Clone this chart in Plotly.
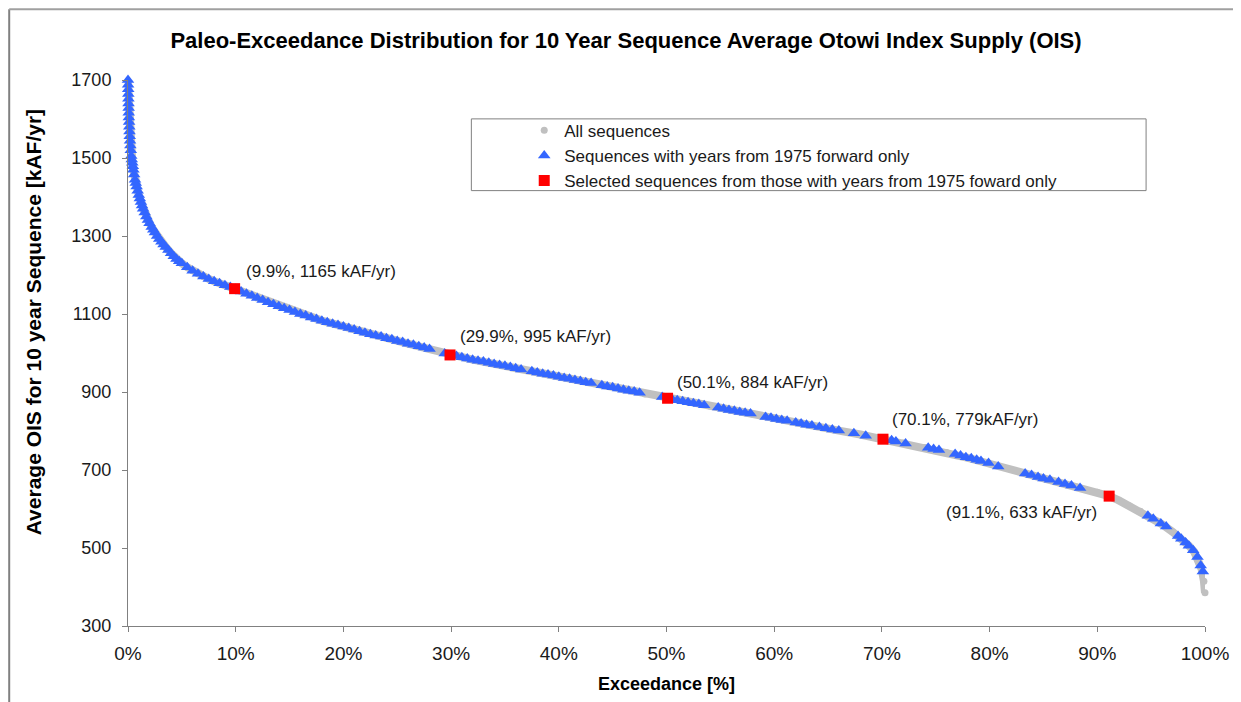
import plotly.graph_objects as go

# ---- data ----
# All sequences (grey curve), exceedance % and 10-yr average OIS [kAF/yr]
all_pct = [0.0, 0.05, 0.1, 0.2, 0.3, 0.4, 0.5, 0.65, 0.8, 1.0, 1.2, 1.4, 1.7, 2.0, 2.35, 2.7, 3.1, 3.5,
           4.0, 4.5, 5.0, 5.5, 6.0, 6.5, 7.0, 7.5, 8.0, 8.5, 9.0, 9.5, 9.9, 12, 14, 16, 18, 20, 22, 24,
           26, 28, 29.9, 32, 34, 36, 38, 40, 42, 44, 46, 48, 50.1, 52, 54, 56, 58, 60, 62, 64, 66, 68,
           70.1, 72, 74, 76, 78, 80, 82, 84, 86, 88, 90, 91.1, 92, 93, 94, 95, 96, 97, 98, 98.5, 99,
           99.4, 99.7, 99.9, 100]
all_val = [1695, 1650, 1600, 1540, 1505, 1488, 1470, 1444, 1427, 1405, 1387, 1370, 1350, 1333, 1316, 1300,
           1285, 1272, 1256, 1241, 1230, 1220, 1211, 1203, 1196, 1190, 1184, 1179, 1174, 1169, 1165, 1141,
           1120, 1100, 1083, 1068, 1052, 1038, 1024, 1010, 995, 983, 972, 961, 950, 939, 928, 917, 906, 895,
           884, 874, 864, 853, 843, 832, 822, 811, 801, 791, 779, 769, 758, 745, 731, 716, 701, 686, 671,
           657, 643, 633, 622, 608, 594, 578, 561, 541, 519, 506, 490, 470, 445, 415, 385]

# Sequences with years from 1975 forward only (blue triangles)
post1975_pct = [0.00, 0.01, 0.02, 0.03, 0.04, 0.05, 0.06, 0.07, 0.08, 0.10, 0.12, 0.14, 0.16, 0.19, 0.22,
                0.26, 0.30, 0.35, 0.40, 0.45, 0.50, 0.57, 0.65, 0.72, 0.80, 0.90, 1.00, 1.10, 1.20, 1.30,
                1.40, 1.55, 1.70, 1.85, 2.00, 2.20, 2.35, 2.50, 2.70, 2.90, 3.10, 3.30, 3.50, 3.75, 4.00,
                4.25, 4.50, 4.75, 5.00, 5.50, 6.00, 6.50, 7.00, 7.50, 8.00, 8.50, 9.00, 9.50, 10.0, 10.5,
                11.0, 11.5, 12.0, 12.5, 13.0, 13.5, 14.0, 14.5, 15.0, 15.5, 16.0, 16.5, 17.0, 17.5, 18.0,
                18.5, 19.0, 19.5, 20.0, 20.5, 21.0, 21.5, 22.0, 22.5, 23.0, 23.5, 24.0, 24.5, 25.0, 25.5,
                26.0, 26.5, 27.0, 27.5, 28.0, 29.4, 30.5, 31.0, 31.5, 32.0, 32.5, 33.0, 33.5, 34.0, 34.5,
                35.0, 35.5, 36.0, 36.5, 37.5, 38.0, 38.5, 39.0, 39.5, 40.0, 40.5, 41.0, 41.5, 42.0, 42.5,
                43.0, 44.0, 44.5, 45.0, 45.5, 46.0, 46.5, 47.0, 47.5, 49.6, 50.5, 51.0, 51.5, 52.0, 52.5,
                53.0, 53.5, 54.8, 55.3, 55.8, 56.3, 56.8, 57.3, 57.8, 59.2, 59.7, 60.2, 60.7, 61.2, 62.0,
                62.5, 63.0, 63.5, 64.2, 64.8, 65.4, 66.0, 67.4, 68.5, 70.9, 71.3, 72.2, 74.3, 74.8, 75.3,
                76.8, 77.3, 77.8, 78.3, 78.8, 79.2, 79.9, 80.8, 83.3, 83.9, 84.5, 85.0, 85.6, 86.4, 87.0,
                87.6, 88.4, 94.7, 95.2, 95.9, 96.4, 97.5, 97.8, 98.2, 98.5, 98.9, 99.3, 99.6, 99.8]
post1975_val = [1700, 1688, 1676, 1664, 1652, 1640, 1628, 1616, 1604, 1592, 1580, 1568, 1556, 1544, 1532,
                1520, 1505, 1496, 1488, 1479, 1470, 1458, 1444, 1436, 1427, 1416, 1405, 1396, 1387, 1378,
                1370, 1360, 1350, 1341, 1333, 1323, 1316, 1309, 1300, 1292, 1285, 1278, 1272, 1264, 1256,
                1248, 1241, 1235, 1230, 1220, 1211, 1203, 1196, 1190, 1184, 1179, 1174, 1169, 1164, 1158,
                1152, 1147, 1141, 1136, 1130, 1125, 1120, 1115, 1110, 1105, 1100, 1096, 1091, 1087, 1083,
                1079, 1075, 1072, 1068, 1064, 1060, 1056, 1052, 1048, 1045, 1042, 1038, 1035, 1031, 1028,
                1024, 1021, 1017, 1014, 1010, 999, 992, 989, 986, 983, 980, 978, 975, 972, 969,
                967, 964, 961, 958, 953, 950, 947, 945, 942, 939, 936, 934, 931, 928, 925,
                923, 917, 914, 912, 909, 906, 903, 901, 898, 887, 882, 879, 876, 874, 871,
                869, 866, 860, 857, 854, 852, 849, 847, 845, 836, 834, 831, 828, 826, 822,
                819, 816, 814, 810, 807, 804, 801, 794, 788, 776, 773, 768, 757, 754, 751,
                741, 737, 733, 730, 726, 723, 718, 709, 691, 687, 682, 678, 675, 669, 664,
                660, 654, 583, 575, 563, 555, 531, 524, 514, 506, 494, 477, 455, 440]

# Selected sequences (red squares)
selected_pct = [9.9, 29.9, 50.1, 70.1, 91.1]
selected_val = [1165, 995, 884, 779, 633]
selected_labels = ["(9.9%, 1165 kAF/yr)", "(29.9%, 995 kAF/yr)", "(50.1%, 884 kAF/yr)",
                   "(70.1%, 779kAF/yr)", "(91.1%, 633 kAF/yr)"]

x_ticks = [0, 10, 20, 30, 40, 50, 60, 70, 80, 90, 100]
y_ticks = [300, 500, 700, 900, 1100, 1300, 1500, 1700]

FONT = "Liberation Sans, Arial, sans-serif"
GREY = "#C0C0C0"
BLUE = "#3366FF"
RED = "#FF0000"

fig = go.Figure()

fig.add_trace(go.Scatter(
    x=all_pct, y=all_val, mode="markers", name="All sequences", legendgroup="a",
    marker=dict(color=GREY, size=7, symbol="circle"), cliponaxis=False))
fig.add_trace(go.Scatter(
    x=all_pct, y=all_val, mode="lines", name="All sequences", showlegend=False, legendgroup="a",
    line=dict(color=GREY, width=8), cliponaxis=False, hoverinfo="skip"))
fig.add_trace(go.Scatter(
    x=post1975_pct, y=post1975_val, mode="markers", legendgroup="b",
    name="Sequences with years from 1975 forward only",
    marker=dict(color=BLUE, size=11, symbol="triangle-up", line=dict(width=0)), cliponaxis=False))
fig.add_trace(go.Scatter(
    x=selected_pct, y=selected_val, mode="markers", legendgroup="c",
    name="Selected sequences from those with years from 1975 foward only",
    marker=dict(color=RED, size=11, symbol="square", line=dict(width=0)), cliponaxis=False))

# label offsets (pixels) for the selected points
offsets = [(9, 17, "left"), (8, 18, "left"), (7, 16, "left"), (7, 20, "left"), (-10, -16, "right")]
for px, py, lab, (dx, dy, anc) in zip(selected_pct, selected_val, selected_labels, offsets):
    fig.add_annotation(x=px, y=py, text=lab, showarrow=False, xanchor=anc, yanchor="middle",
                       xshift=dx, yshift=dy, font=dict(family=FONT, size=17, color="#1a1a1a"))

# y-axis title (placed like the reference, slightly above the plot centre)
fig.add_annotation(xref="paper", yref="paper", x=(33 - 128) / 1079, y=(628 - 323) / 548,
                   text="<b>Average OIS for 10 year Sequence [kAF/yr]</b>", textangle=-90,
                   showarrow=False, xanchor="center", yanchor="middle",
                   font=dict(family=FONT, size=21, color="#000000"))

# page body has an 8px margin, so the figure is 8px smaller and margins shifted by 8px
fig.update_layout(
    width=1233, height=694, autosize=False,
    margin=dict(l=120, r=34, t=72, b=74),
    paper_bgcolor="white", plot_bgcolor="white",
    font=dict(family=FONT, color="#1a1a1a"),
    title=dict(text="<b>Paleo-Exceedance Distribution for 10 Year Sequence Average Otowi Index Supply (OIS)</b>",
               x=618 / 1233, xref="container", xanchor="center",
               y=1 - 32 / 694, yref="container", yanchor="middle",
               font=dict(family=FONT, size=22, color="#000000")),
    xaxis=dict(range=[0, 100], tickvals=x_ticks, ticktext=[f"{v}%" for v in x_ticks],
               showgrid=False, zeroline=False, showline=True, linecolor="#808080", linewidth=1,
               ticks="outside", ticklen=5, tickcolor="#808080", ticklabelstandoff=5,
               tickfont=dict(family=FONT, size=19, color="#1a1a1a"),
               title=dict(text="<b>Exceedance [%]</b>", standoff=14,
                          font=dict(family=FONT, size=18, color="#000000"))),
    yaxis=dict(range=[300, 1700], tickvals=y_ticks,
               showgrid=False, zeroline=False, showline=True, linecolor="#808080", linewidth=1,
               ticks="outside", ticklen=5, tickcolor="#808080", ticklabelstandoff=7,
               tickfont=dict(family=FONT, size=18, color="#1a1a1a")),
    legend=dict(x=0.3679, y=0.94, xanchor="left", yanchor="top", bgcolor="rgba(0,0,0,0)",
                borderwidth=0, font=dict(family=FONT, size=17, color="#1a1a1a"),
                itemsizing="trace", tracegroupgap=0, traceorder="grouped"),
    showlegend=True,
)

# legend frame and outer chart-area frame
fig.add_shape(type="rect", xref="paper", yref="paper", x0=0.3188, x1=0.9453, y0=0.7974, y1=0.9288,
              line=dict(color="#808080", width=1), fillcolor="rgba(0,0,0,0)", layer="below")
fig.add_shape(type="line", xref="paper", yref="paper", x0=-0.1103, x1=-0.1103, y0=1.1296, y1=-0.2,
              line=dict(color="#808080", width=2))
fig.add_shape(type="line", xref="paper", yref="paper", x0=-0.1103, x1=1.05, y0=1.1296, y1=1.1296,
              line=dict(color="#A0A0A0", width=2))

fig.write_html("out.html")
